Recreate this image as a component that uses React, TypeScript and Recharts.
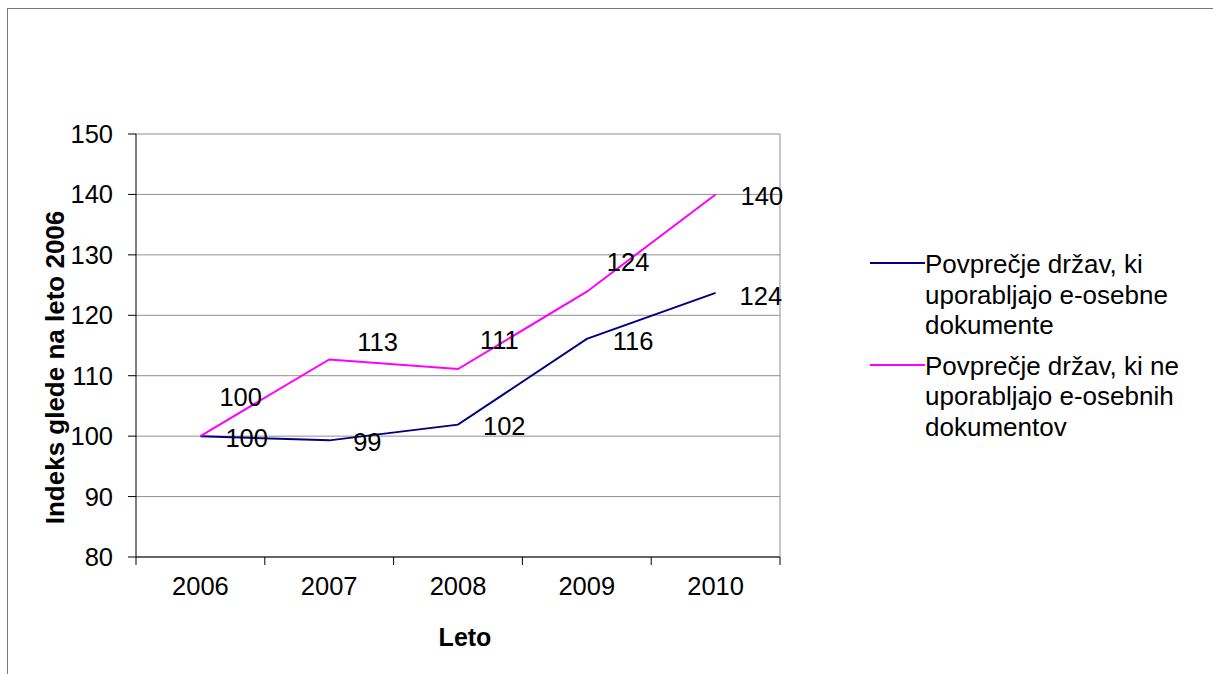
import React from 'react';
import { LineChart, Line, XAxis, YAxis, CartesianGrid, Legend, LabelList, Label } from 'recharts';

const categories = ['2006', '2007', '2008', '2009', '2010'];
const withEDocs = [100, 99.3, 101.9, 116.1, 123.7];
const withoutEDocs = [100, 112.7, 111.1, 123.9, 140];
const yTicks = [80, 90, 100, 110, 120, 130, 140, 150];
const seriesNames = [
  'Povprečje držav, ki uporabljajo e-osebne dokumente',
  'Povprečje držav, ki ne uporabljajo e-osebnih dokumentov',
];
const xAxisTitle = 'Leto';
const yAxisTitle = 'Indeks glede na leto 2006';

// label placement offsets (style)
const blueLabelDx = [25, 24, 25, 26, 24];
const blueLabelDy = [2, 2, 1, 2, 3];
const magentaLabelDx = [19, 28, 22, 20, 25];
const magentaLabelDy = [-39, -17, -29, -30, 2];

const FONT = '"Liberation Sans", Arial, sans-serif';
const BLUE = '#000080';
const MAGENTA = '#FF00FF';

const data = categories.map((c, i) => ({ idx: i, year: c, a: withEDocs[i], b: withoutEDocs[i] }));
const xTicks = [...categories.flatMap((_, i) => [i - 0.5, i]), categories.length - 0.5];

const XTick = (props: any) => {
  const { x, y, payload } = props;
  const v = payload.value;
  if (Number.isInteger(v)) {
    return (
      <text x={x} y={y + 29} textAnchor="middle" dominantBaseline="central" fontSize={25.5} fontFamily={FONT} fill="#000">
        {categories[v]}
      </text>
    );
  }
  return <line x1={x} x2={x} y1={y} y2={y + 8} stroke="#000" strokeWidth={1} />;
};

const makeLabel = (dxArr: number[], dyArr: number[]) => (props: any) => {
  const { x, y, value, index } = props;
  return (
    <text
      x={x + dxArr[index]}
      y={y + dyArr[index]}
      dominantBaseline="central"
      textAnchor="start"
      fontSize={25.5}
      fontFamily={FONT}
      fill="#000"
    >
      {Math.round(value)}
    </text>
  );
};

const renderLegend = (props: any) => {
  const payload = [...(props.payload || [])].sort(
    (p: any, q: any) => seriesNames.indexOf(p.value) - seriesNames.indexOf(q.value)
  );
  return (
    <div style={{ fontFamily: FONT }}>
      {payload.map((p: any, i: number) => (
        <div key={i} style={{ display: 'flex', alignItems: 'flex-start', marginBottom: 10 }}>
          <div style={{ width: 55, height: 0, borderTop: `2px solid ${p.color}`, marginTop: 13, flex: 'none' }} />
          <div style={{ width: 285, fontSize: 26, lineHeight: '30.5px', color: '#000' }}>{p.value}</div>
        </div>
      ))}
    </div>
  );
};

export default function App() {
  return (
    <div style={{ position: 'absolute', left: 0, top: 0, width: 1213, height: 674, overflow: 'hidden', background: '#fff' }}>
      <div style={{ position: 'absolute', left: 7, top: 8, width: 1400, height: 900, border: '1px solid #777' }} />
      <div style={{ position: 'absolute', left: 0, top: 0 }}>
        <LineChart width={1213} height={674} data={data} margin={{ top: 134, right: 432, bottom: 27, left: 0 }}>
          <CartesianGrid vertical={false} stroke="#8f8f8f" />
          <XAxis
            dataKey="idx"
            type="number"
            domain={[-0.5, categories.length - 0.5]}
            ticks={xTicks}
            interval={0}
            allowDecimals
            tickLine={false}
            tickSize={0}
            tickMargin={0}
            axisLine={{ stroke: '#000' }}
            height={90}
            tick={<XTick />}
          >
            <Label
              content={(p: any) => {
                const vb = p.viewBox || {};
                return (
                  <text
                    x={vb.x + vb.width / 2 + 7}
                    y={vb.y + 80}
                    textAnchor="middle"
                    dominantBaseline="central"
                    fontSize={25}
                    fontWeight="bold"
                    fontFamily={FONT}
                    fill="#000"
                  >
                    {xAxisTitle}
                  </text>
                );
              }}
            />
          </XAxis>
          <YAxis
            domain={[80, 150]}
            ticks={yTicks}
            interval={0}
            width={136}
            tickSize={8}
            tickMargin={15}
            axisLine={{ stroke: '#000' }}
            tickLine={{ stroke: '#000' }}
            tick={{ fontSize: 25.5, fontFamily: FONT, fill: '#000' }}
          >
            <Label
              content={(p: any) => {
                const vb = p.viewBox || {};
                const cx = vb.x + 55;
                const cy = vb.y + vb.height / 2 + 22;
                return (
                  <text
                    transform={`translate(${cx}, ${cy}) rotate(-90)`}
                    textAnchor="middle"
                    dominantBaseline="central"
                    fontSize={26}
                    fontWeight="bold"
                    fontFamily={FONT}
                    fill="#000"
                  >
                    {yAxisTitle}
                  </text>
                );
              }}
            />
          </YAxis>
          <YAxis yAxisId="right" orientation="right" domain={[80, 150]} width={1} tick={false} tickLine={false} axisLine={{ stroke: '#8f8f8f' }} />
          <Legend
            layout="horizontal"
            verticalAlign="middle"
            align="center"
            wrapperStyle={{ left: 870, top: 249, width: 340 }}
            content={renderLegend}
          />
          <Line
            type="linear"
            dataKey="a"
            name={seriesNames[0]}
            stroke={BLUE}
            strokeWidth={2}
            dot={false}
            isAnimationActive={false}
          >
            <LabelList dataKey="a" content={makeLabel(blueLabelDx, blueLabelDy)} />
          </Line>
          <Line
            type="linear"
            dataKey="b"
            name={seriesNames[1]}
            stroke={MAGENTA}
            strokeWidth={2}
            dot={false}
            isAnimationActive={false}
          >
            <LabelList dataKey="b" content={makeLabel(magentaLabelDx, magentaLabelDy)} />
          </Line>
        </LineChart>
      </div>
    </div>
  );
}
